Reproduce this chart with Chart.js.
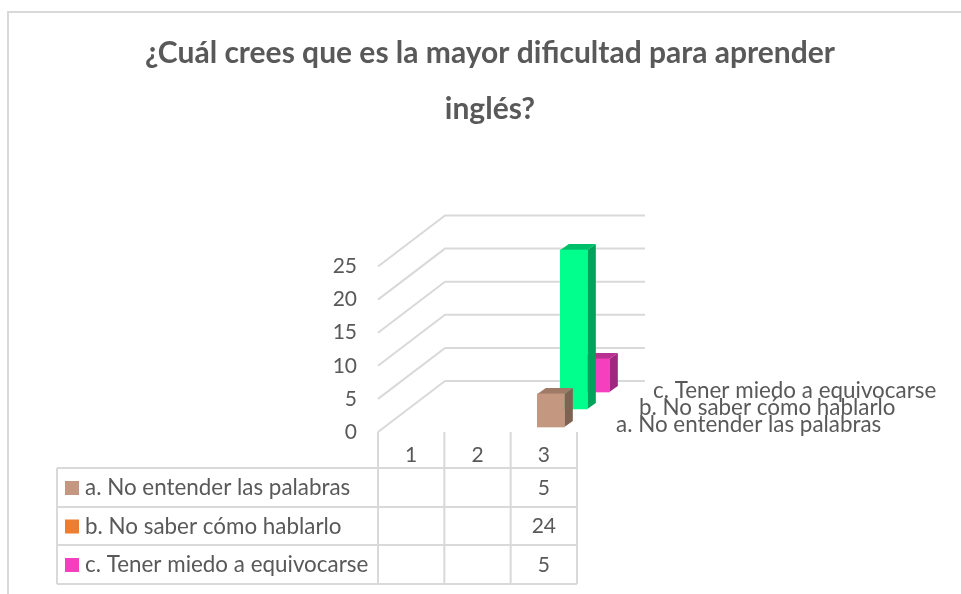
<!DOCTYPE html>
<html><head><meta charset="utf-8">
<style>html,body{margin:0;padding:0;background:#fff;overflow:hidden;width:961px;height:594px}canvas{display:block}</style>
<script src="https://cdn.jsdelivr.net/npm/chart.js@4"></script></head>
<body><canvas id="c" width="961" height="594" style="width:961px;height:594px"></canvas>
<script>
const titleLines = ['¿Cuál crees que es la mayor dificultad para aprender', 'inglés?'];
const categories = ['1', '2', '3'];
const seriesNames = ['a. No entender las palabras', 'b. No saber cómo hablarlo', 'c. Tener miedo a equivocarse'];
const seriesA = [null, null, 5];
const seriesB = [null, null, 24];
const seriesC = [null, null, 5];
const yTicks = [0, 5, 10, 15, 20, 25];
const frontColors = ['#C49780', '#00FF8C', '#F53FBE'];
const sideColors = ['#7F6352', '#00A35C', '#A0277F'];
const topColors = ['#9F7A66', '#00BF6B', '#B83091'];
const keyColors = ['#C49780', '#ED7D31', '#F53FBE'];

const TEXT = '#595959', GRID = '#D9D9D9', FONT = 'Lato, "Open Sans", sans-serif';
const LABEL_SIZE = 22.4, TICK_SIZE = 21;
const depthShift = [[7, -5], [30, -23], [52, -40]];
const faceDepth = [8.5, -6];
const wallShift = [67, -51];
const wallRight = 645;
const depthLabelPos = [[616, 425], [639, 408], [653, 391]];
const tableLeft = 57, tableRows = [468, 507, 545, 584];

const threeD = {
  id: 'threeD',
  beforeDatasetsDraw(chart) {
    const {ctx, scales: {x, y}} = chart;
    ctx.save();
    ctx.strokeStyle = GRID; ctx.lineWidth = 2;
    ctx.beginPath(); ctx.moveTo(961, 12); ctx.lineTo(8, 12); ctx.lineTo(8, 594); ctx.stroke();
    yTicks.forEach(v => {
      const py = y.getPixelForValue(v);
      ctx.beginPath();
      ctx.moveTo(x.left, py);
      ctx.lineTo(x.left + wallShift[0], py + wallShift[1]);
      ctx.lineTo(wallRight, py + wallShift[1]);
      ctx.stroke();
    });
    const step = x.width / categories.length;
    ctx.beginPath();
    for (let i = 0; i <= categories.length; i++) {
      ctx.moveTo(x.left + i * step, y.bottom);
      ctx.lineTo(x.left + i * step, tableRows[tableRows.length - 1]);
    }
    tableRows.forEach(r => { ctx.moveTo(tableLeft, r); ctx.lineTo(x.right, r); });
    ctx.moveTo(tableLeft, tableRows[0]); ctx.lineTo(tableLeft, tableRows[tableRows.length - 1]);
    ctx.stroke();
    ctx.textBaseline = 'middle';
    chart.data.datasets.forEach((ds, s) => {
      const cy = (tableRows[s] + tableRows[s + 1]) / 2 + 0.5;
      ctx.fillStyle = keyColors[s];
      ctx.fillRect(tableLeft + 8, cy - 7, 14, 14);
      ctx.fillStyle = TEXT;
      ctx.textAlign = 'left';
      ctx.font = LABEL_SIZE + 'px ' + FONT;
      ctx.fillText(ds.label, tableLeft + 28, cy);
      ctx.textAlign = 'center';
      ctx.font = TICK_SIZE + 'px ' + FONT;
      ds.data.forEach((v, i) => { if (v !== null) ctx.fillText(String(v), x.getPixelForTick(i), cy); });
    });
    ctx.restore();
  },
  beforeDatasetDraw(chart, args) {
    const {ctx} = chart, s = args.index;
    ctx.save();
    ctx.translate(depthShift[s][0], depthShift[s][1]);
    args.meta.data.forEach((bar, i) => {
      if (chart.data.datasets[s].data[i] === null) return;
      const {x, y, base, width} = bar.getProps(['x', 'y', 'base', 'width'], true);
      const l = x - width / 2, r = x + width / 2, [dx, dy] = faceDepth;
      ctx.fillStyle = sideColors[s];
      ctx.beginPath(); ctx.moveTo(r, y); ctx.lineTo(r + dx, y + dy); ctx.lineTo(r + dx, base + dy); ctx.lineTo(r, base); ctx.closePath(); ctx.fill();
      ctx.fillStyle = topColors[s];
      ctx.beginPath(); ctx.moveTo(l, y); ctx.lineTo(l + dx, y + dy); ctx.lineTo(r + dx, y + dy); ctx.lineTo(r, y); ctx.closePath(); ctx.fill();
    });
  },
  afterDatasetDraw(chart) { chart.ctx.restore(); },
  afterDatasetsDraw(chart) {
    const {ctx} = chart;
    ctx.save();
    ctx.fillStyle = TEXT; ctx.font = LABEL_SIZE + 'px ' + FONT; ctx.textBaseline = 'middle'; ctx.textAlign = 'left';
    [2, 1, 0].forEach(s => ctx.fillText(chart.data.datasets[s].label, depthLabelPos[s][0], depthLabelPos[s][1]));
    ctx.restore();
  }
};

new Chart(document.getElementById('c'), {
  type: 'bar',
  data: {
    labels: categories,
    datasets: [
      {label: seriesNames[0], data: seriesA, backgroundColor: frontColors[0]},
      {label: seriesNames[1], data: seriesB, backgroundColor: frontColors[1]},
      {label: seriesNames[2], data: seriesC, backgroundColor: frontColors[2]}
    ]
  },
  plugins: [threeD],
  options: {
    responsive: false, animation: false,
    layout: {padding: {left: 19, right: 0, top: 0, bottom: 0}},
    datasets: {bar: {grouped: false, barThickness: 27, borderWidth: 0, clip: false}},
    plugins: {
      legend: {display: false}, tooltip: {enabled: false},
      title: {
        display: true, text: titleLines, color: TEXT,
        font: {family: FONT, size: 30, weight: 'bold', lineHeight: 56 / 30},
        padding: {top: 25, bottom: 129.5}
      }
    },
    scales: {
      x: {
        grid: {display: false, drawTicks: false}, border: {display: false},
        afterFit(s) { s.height = 162; },
        ticks: {color: TEXT, padding: 11, font: {family: FONT, size: TICK_SIZE}, maxRotation: 0}
      },
      y: {
        min: 0, max: 25,
        grid: {display: false, drawTicks: false}, border: {display: false},
        afterFit(s) { s.width = 359; },
        ticks: {stepSize: 5, color: TEXT, padding: 21, font: {family: FONT, size: TICK_SIZE}}
      },
      depth: {
        position: 'right', min: 0, max: 1,
        grid: {display: false, drawTicks: false}, border: {display: false},
        afterFit(s) { s.width = 384; },
        ticks: {display: false}
      }
    }
  }
});
</script></body></html>
